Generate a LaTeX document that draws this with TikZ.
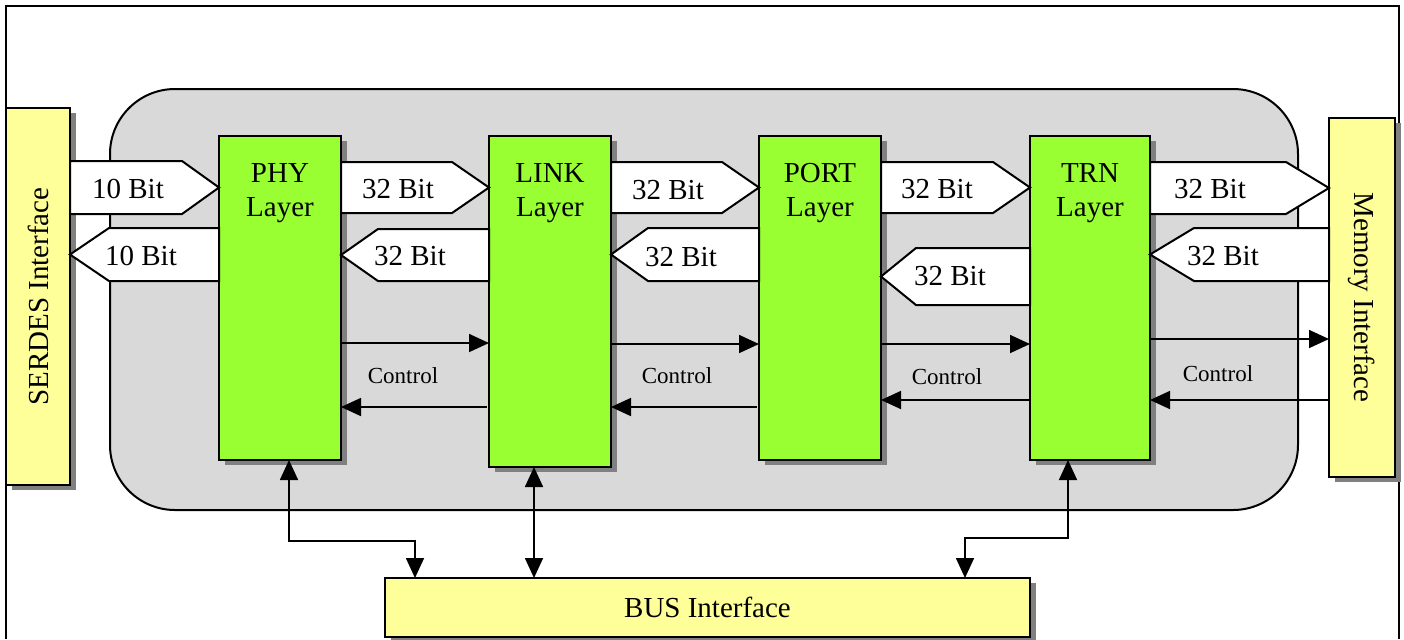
\documentclass[tikz,border=0pt]{standalone}
\usepackage{fontspec}
\setmainfont{Liberation Serif}
\usetikzlibrary{shadows,arrows.meta}
\definecolor{coregray}{HTML}{D9D9D9}
\definecolor{layergreen}{HTML}{99FF33}
\definecolor{ifyellow}{HTML}{FFFF99}
\definecolor{shadowgray}{HTML}{808080}
\tikzset{
  shad/.style={drop shadow={shadow xshift=3pt,shadow yshift=-2.5pt,fill=shadowgray,opacity=1}},
  layerbox/.style={draw=black,line width=1pt,fill=layergreen,shad,inner sep=0pt,outer sep=0pt},
  ifbox/.style={draw=black,line width=1pt,fill=ifyellow,shad,inner sep=0pt,outer sep=0pt},
  corebox/.style={draw=black,line width=1pt,fill=coregray,rounded corners=32.5pt,inner sep=0pt,outer sep=0pt},
  bigtxt/.style={font=\fontsize{14.5}{17}\selectfont,inner sep=0pt,align=center},
  ctltxt/.style={font=\fontsize{11.5}{13}\selectfont,inner sep=0pt},
  blockarrow/.style={draw=black,line width=1pt,fill=white,line join=miter},
  ctl/.style={line width=0.85pt,-{Triangle[length=10pt,width=9pt]}},
  dbl/.style={line width=0.85pt,{Triangle[length=10pt,width=9pt]}-{Triangle[length=10pt,width=9pt]}},
  frameline/.style={line width=1pt},
}
\newcommand\BlockArrow[5]{% flat x, shoulder x, tip x, top y, bottom y
  \draw[blockarrow] (#1,#4) -- (#2,#4) -- (#3,{(#4+#5)/2}) -- (#2,#5) -- (#1,#5) -- cycle;}

\begin{document}
\begin{tikzpicture}[x=0.5pt,y=-0.5pt]
\useasboundingbox (0,0) rectangle (1404,639);
% outer frame
\draw[frameline] (6,639) -- (6,6) -- (1399,6) -- (1399,639);

% core area
\node[corebox,minimum width=594pt,minimum height=210.5pt] (core) at (704,299.5) {};

% interfaces
\node[ifbox,minimum width=32pt,minimum height=188.5pt] (serdes) at (38,296.5) {};
\node[bigtxt,rotate=90] (serdesT) at (serdes.center) {SERDES Interface};
\node[ifbox,minimum width=33pt,minimum height=179.5pt] (mem) at (1362,297.5) {};
\node[bigtxt,rotate=-90] (memT) at (mem.center) {Memory Interface};
\node[ifbox,minimum width=322.5pt,minimum height=29.5pt] (bus) at (707.5,607.5) {};
\node[bigtxt] (busT) at (bus.center) {BUS Interface};

% layers
\node[layerbox,minimum width=61pt,minimum height=162pt] (phy) at (280,298) {};
\node[layerbox,minimum width=61pt,minimum height=165.5pt] (link) at (550,301.5) {};
\node[layerbox,minimum width=61pt,minimum height=162pt] (port) at (820,298) {};
\node[layerbox,minimum width=60pt,minimum height=162pt] (trn) at (1090,298) {};
\node[bigtxt] (phyT) at (280,193) {PHY\\Layer};
\node[bigtxt] (linkT) at (550,193) {LINK\\Layer};
\node[bigtxt] (portT) at (820,193) {PORT\\Layer};
\node[bigtxt] (trnT) at (1090,193) {TRN\\Layer};

% block arrows (data paths)
\BlockArrow{70}{182}{219}{161}{214}
\BlockArrow{219}{109}{70}{228}{281}
\BlockArrow{341}{452}{489}{162}{213}
\BlockArrow{489}{378}{341}{229}{281}
\BlockArrow{611}{722}{759}{162}{213}
\BlockArrow{759}{648}{611}{228}{281}
\BlockArrow{881}{993}{1030}{162}{213}
\BlockArrow{1030}{916}{881}{248}{305}
\BlockArrow{1150}{1286}{1329}{162}{214}
\BlockArrow{1329}{1194}{1150}{228}{281}

\node[bigtxt] (d1) at (128,189) {10 Bit};
\node[bigtxt] (d2) at (141,256) {10 Bit};
\node[bigtxt] (d3) at (398,189) {32 Bit};
\node[bigtxt] (d4) at (410,256) {32 Bit};
\node[bigtxt] (d5) at (668,190) {32 Bit};
\node[bigtxt] (d6) at (681,257) {32 Bit};
\node[bigtxt] (d7) at (937,189) {32 Bit};
\node[bigtxt] (d8) at (950,276) {32 Bit};
\node[bigtxt] (d9) at (1210,189) {32 Bit};
\node[bigtxt] (d10) at (1223,256) {32 Bit};

% control arrows
\coordinate (ya) at (0,343);
\coordinate (yb) at (0,407);
\coordinate (yc) at (0,344);
\coordinate (yd) at (0,400);
\coordinate (ye) at (0,339);
\draw[ctl] (phy.east |- ya) -- (link.west |- ya);
\draw[ctl] ([xshift=-1pt]link.west |- yb) -- (phy.east |- yb);
\draw[ctl] (link.east |- yc) -- (port.west |- yc);
\draw[ctl] ([xshift=-1pt]port.west |- yb) -- (link.east |- yb);
\draw[ctl] (port.east |- yc) -- (trn.west |- yc);
\draw[ctl] (trn.west |- yd) -- (port.east |- yd);
\draw[ctl] (trn.east |- ye) -- (mem.west |- ye);
\draw[ctl] (mem.west |- yd) -- (trn.east |- yd);
\node[ctltxt] (c1) at (403,376) {Control};
\node[ctltxt] (c2) at (677,376) {Control};
\node[ctltxt] (c3) at (947,377) {Control};
\node[ctltxt] (c4) at (1218,374) {Control};

% bus connectors
\coordinate (p1) at (289,541);
\coordinate (p2) at (415,541);
\coordinate (l1) at (534,541);
\coordinate (t1) at (1068,538);
\coordinate (t2) at (965,538);
\draw[dbl] (phy.south -| p1) -- (p1) -- (p2) -- (bus.north -| p2);
\draw[dbl] (link.south -| l1) -- (bus.north -| l1);
\draw[dbl] (trn.south -| t1) -- (t1) -- (t2) -- (bus.north -| t2);
\end{tikzpicture}
\end{document}
